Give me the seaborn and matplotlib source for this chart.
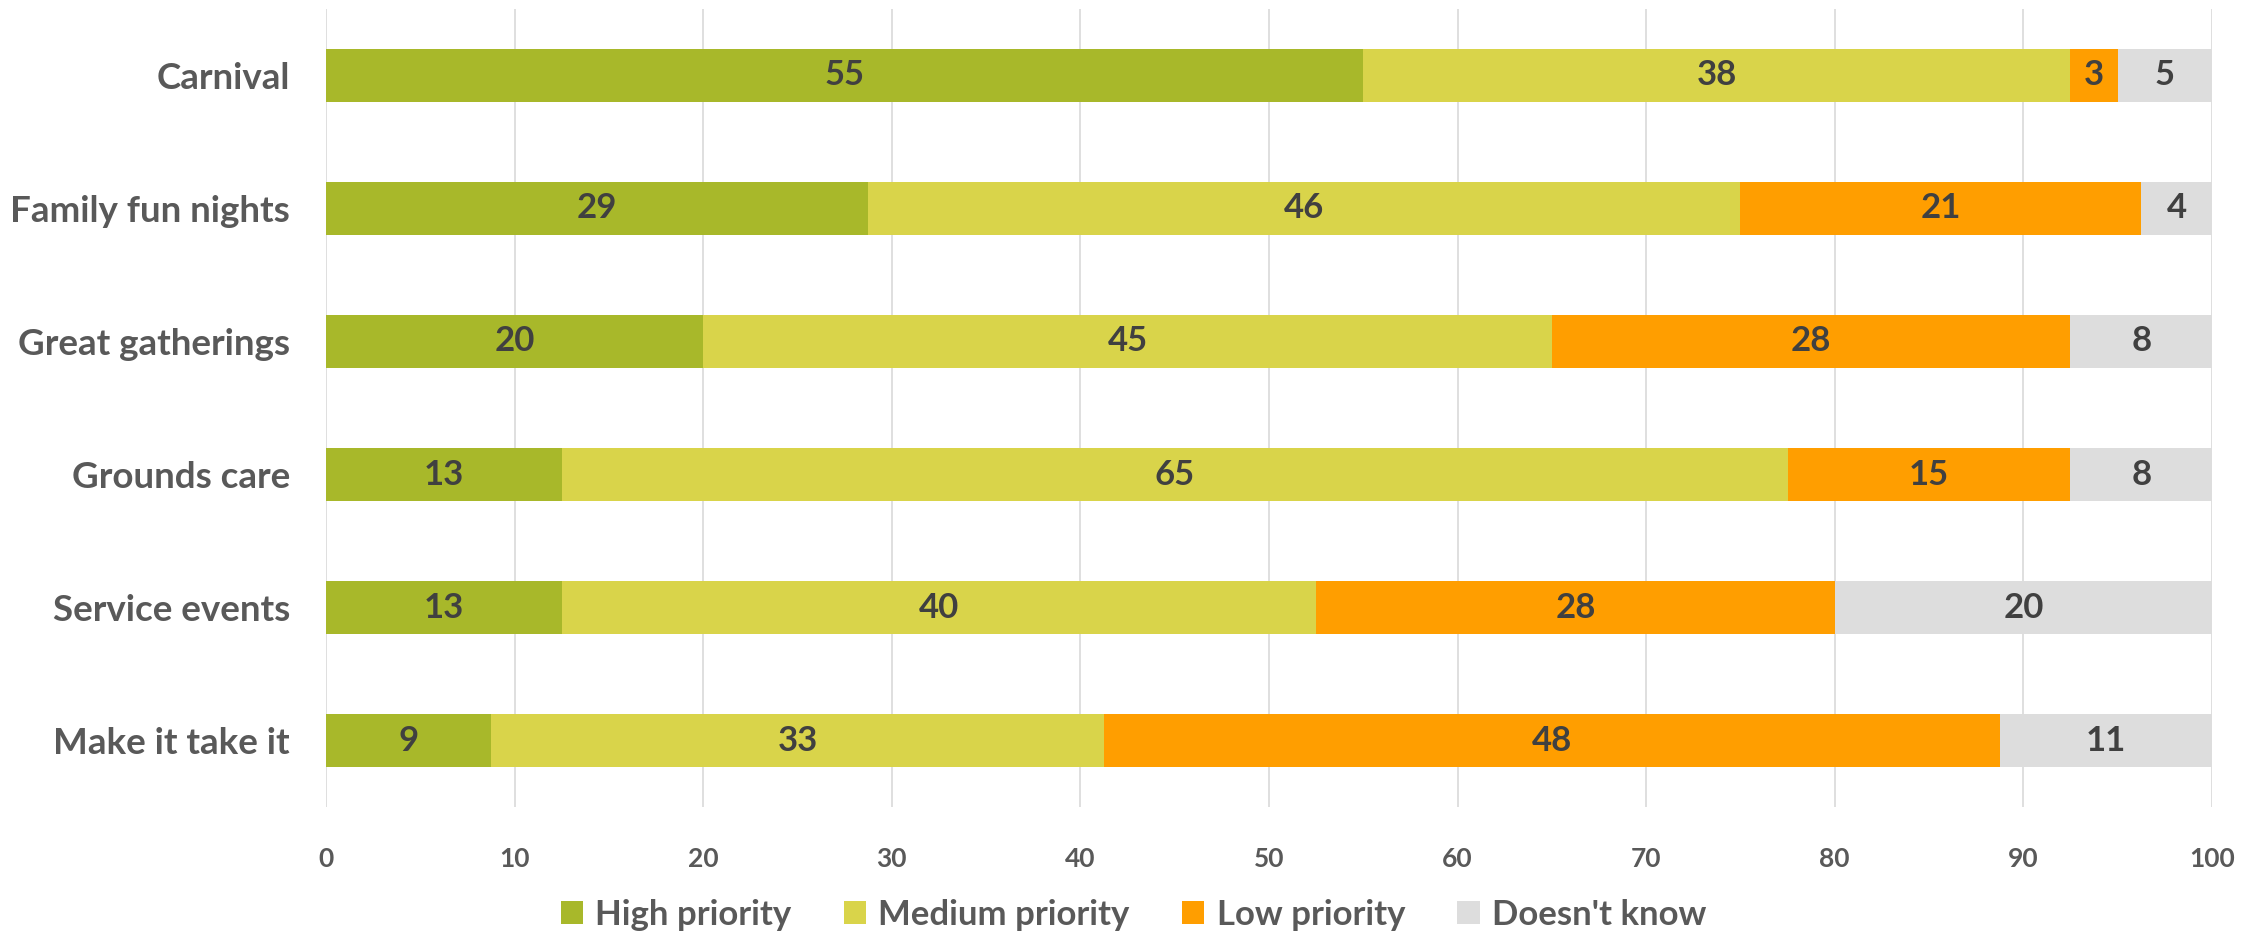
import numpy as np
import pandas as pd
import seaborn as sns
import matplotlib.pyplot as plt
from matplotlib.patches import Patch

# ---- data ----
activities = ["Carnival", "Family fun nights", "Great gatherings",
              "Grounds care", "Service events", "Make it take it"]
high = [55, 28.75, 20, 12.5, 12.5, 8.75]
medium = [37.5, 46.25, 45, 65, 40, 32.5]
low = [2.5, 21.25, 27.5, 15, 27.5, 47.5]
dont_know = [5, 3.75, 7.5, 7.5, 20, 11.25]

series_names = ["High priority", "Medium priority", "Low priority", "Doesn't know"]
series_vals = [high, medium, low, dont_know]
colors = ["#A8B82A", "#D9D44A", "#FF9E00", "#DDDDDD"]
x_ticks = [0, 10, 20, 30, 40, 50, 60, 70, 80, 90, 100]

sns.set_theme(style="white")
plt.rcParams['font.family'] = ['Lato', 'DejaVu Sans']

df = pd.DataFrame({"Activity": activities})
for name, vals in zip(series_names, series_vals):
    df[name] = vals
cum = df[series_names].cumsum(axis=1)

fig = plt.figure(figsize=(22.67, 9.36), dpi=100)
ax = fig.add_axes([0.1438, 0.1378, 0.9757 - 0.1438, 0.9904 - 0.1378])

# stacked bars: draw cumulative totals, widest first
for name, col in reversed(list(zip(series_names, colors))):
    sns.barplot(x=cum[name], y=df["Activity"], color=col, orient="h",
                width=0.4, saturation=1, ax=ax, linewidth=0, zorder=2)

# value labels (Excel-style rounding)
for name in series_names:
    for i in range(len(df)):
        v = df[name].iloc[i]
        xc = cum[name].iloc[i] - v / 2
        ax.text(xc, i, str(int(np.floor(v + 0.5))), ha="center", va="center",
                fontsize=25, fontweight="bold", color="#404040", zorder=3)

ax.set_xlim(0, 100)
ax.set_ylim(len(activities) - 0.5, -0.5)
ax.set_xticks(x_ticks)
ax.set_xticklabels([str(t) for t in x_ticks], fontsize=19, fontweight="bold", color="#595959")
ax.tick_params(axis="x", length=0, pad=29)
ax.tick_params(axis="y", length=0, pad=26, labelsize=26.5, labelcolor="#595959")
for lbl in ax.get_yticklabels():
    lbl.set_fontweight("bold")
ax.set_xlabel("")
ax.set_ylabel("")
ax.grid(axis="x", color="#D9D9D9", linewidth=1.2, zorder=0)
ax.grid(axis="y", visible=False)
for s in ax.spines.values():
    s.set_visible(False)

handles = [Patch(facecolor=c, edgecolor="none") for c in colors]
leg = fig.legend(handles, series_names, loc="center", bbox_to_anchor=(0.5, 0.0224),
                 ncol=4, frameon=False, fontsize=25, handlelength=0.65, handleheight=0.65,
                 handletextpad=0.35, columnspacing=1.5)
for t in leg.get_texts():
    t.set_color("#595959")
    t.set_fontweight("bold")

fig.savefig("out.png", dpi=100)
